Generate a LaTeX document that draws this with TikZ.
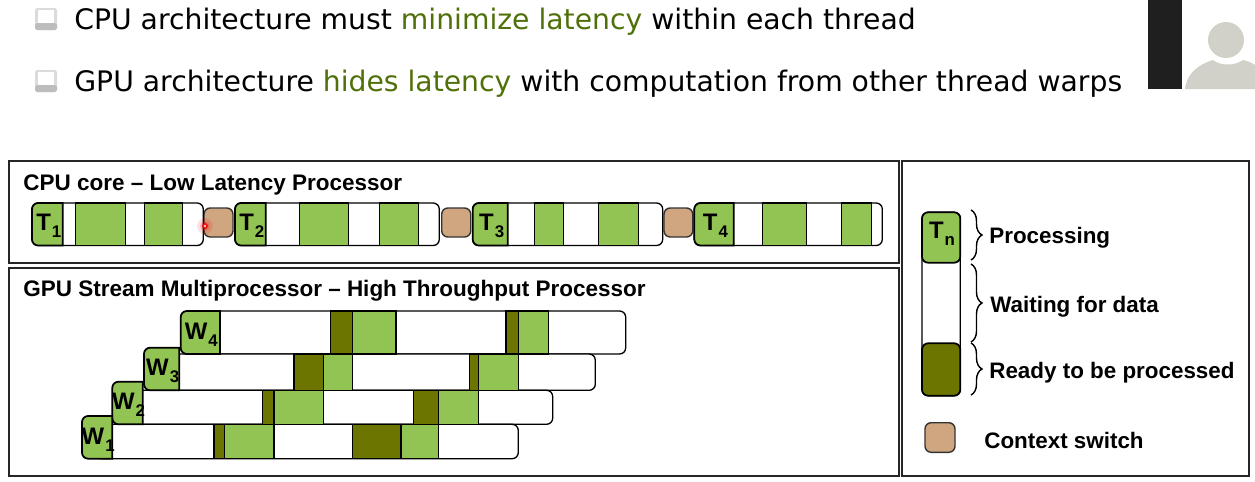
\documentclass[tikz,border=0pt]{standalone}
\usepackage{xcolor}
\usepackage{fontspec}
\setmainfont{Liberation Sans}
\newfontfamily\slidefont{DejaVu Sans}
\usepackage{tikz}
\usetikzlibrary{calc,decorations.pathreplacing}
\definecolor{procgreen}{RGB}{146,196,84}
\definecolor{readyolive}{RGB}{107,117,0}
\definecolor{switchtan}{RGB}{207,166,127}
\definecolor{accentgreen}{RGB}{80,112,10}
\definecolor{avatargrey}{RGB}{209,209,201}
\newcommand{\headlabel}[2]{#1\kern0.6pt\raisebox{-4pt}{\fontsize{9.6}{10}\selectfont #2}}
\tikzset{
  panel/.style={draw=black!85, line width=0.9pt, fill=white},
  bar/.style={draw=black, line width=0.75pt, fill=white, rounded corners=3.5pt},
  seg/.style={draw=black, line width=0.7pt},
  head/.style={draw=black, line width=1pt, fill=procgreen},
  headround/.style={head, rounded corners=3.5pt},
  switchbox/.style={draw=black!80, line width=0.8pt, fill=switchtan, rounded corners=3.5pt},
  headtext/.style={font=\fontsize{13.6}{15}\selectfont\bfseries, inner sep=0pt},
  paneltitle/.style={anchor=west, inner sep=0pt, font=\fontsize{12.8}{14}\selectfont\bfseries},
  legendtext/.style={anchor=west, inner sep=0pt, font=\fontsize{12.75}{15}\selectfont\bfseries},
  slideline/.style={anchor=west, inner sep=0pt, font=\slidefont\fontsize{16.08}{18}\selectfont},
  legbrace/.style={draw=black, line width=0.8pt, decorate, decoration={brace, amplitude=0.22cm}},
}
\begin{document}
\begin{tikzpicture}[x=0.02cm, y=-0.02cm]
  \useasboundingbox (0,0) rectangle (1255,481);
  \fill[white] (0,0) rectangle (1255,481);

  \foreach \y in {8,70} {
    \fill[black!14, rounded corners=1pt] (35,\y) rectangle (57,\y+22);
    \fill[black!26, rounded corners=1pt] (35,\y+15) rectangle (57,\y+22);
    \fill[white] (38,\y+2) rectangle (54,\y+15);
  }
  \node[slideline] (line1) at (74,22) {CPU architecture must \textcolor{accentgreen}{minimize latency} within each thread};
  \node[slideline] (line2) at (74,84) {GPU architecture \textcolor{accentgreen}{hides latency} with computation from other thread warps};

  \fill[black!88] (1148,0) rectangle (1182,89);
  \fill[avatargrey] (1226,40) circle (18);
  \fill[avatargrey] (1185,89) .. controls (1187,72) and (1200,64) .. (1213,60)
    .. controls (1220,66) and (1235,66) .. (1243,60)
    .. controls (1248,61) and (1252,63) .. (1255,65) -- (1255,89) -- cycle;

  \draw[panel] (9,161) rectangle (899,263);
  \draw[panel] (9,268) rectangle (899,476);
  \draw[panel] (902,161) rectangle (1249,476);
  \node[paneltitle] (cputitle) at (23,185) {CPU core -- Low Latency Processor};
  \node[paneltitle] (gputitle) at (23,291) {GPU Stream Multiprocessor -- High Throughput Processor};

  \foreach \xa/\xb in {204/233,441.7/470.7,664/692.7} {
    \draw[switchbox] (\xa,208) rectangle (\xb,237);
  }
  \foreach \xa/\xb in {32/203.3,235/439.3,472.7/662.7,694.3/882.3} {
    \draw[bar] (\xa,203) rectangle (\xb,245.5);
  }
  \foreach \xa/\xb in {75.7/125.7,144.3/182.3,299.7/348.3,379.3/418.7,534.3/563.3,598.3/638.7,762.3/806.7,841.7/871.3} {
    \draw[seg, fill=procgreen] (\xa,203) rectangle (\xb,245.5);
  }
  \foreach \n/\xa/\xb in {1/32/62.7,2/235/265.7,3/472.7/507.7,4/694.3/733.7} {
    \draw[head] (\xb,203) [rounded corners=3.5pt] -- (\xa,203) -- (\xa,245.5) [sharp corners] -- (\xb,245.5) -- cycle;
    \node[headtext] (t\n) at ($(\xa,203)!0.5!(\xb,245.5)+(1.5,2)$) {\headlabel{T}{\n}};
  }

  \foreach \xa/\xb/\ya/\yb in {200/625.7/311/354,160/595.3/354/390.3,125/552.7/390.3/424.3,95/518.3/424.3/458.7} {
    \draw[bar] (\xa,\ya) rectangle (\xb,\yb);
  }
  \foreach \xa/\xb/\ya/\yb/\col in {
    330.7/352.7/311/354/readyolive,352.7/396/311/354/procgreen,506/518.3/311/354/readyolive,518.3/548.3/311/354/procgreen,
    294/323.3/354/390.3/readyolive,323.3/352.7/354/390.3/procgreen,469.3/478.3/354/390.3/readyolive,478.3/518.3/354/390.3/procgreen,
    262.7/274/390.3/424.3/readyolive,274/323.3/390.3/424.3/procgreen,413.3/438.7/390.3/424.3/readyolive,438.7/478.3/390.3/424.3/procgreen,
    214/224.3/424.3/458.7/readyolive,224.3/274/424.3/458.7/procgreen,352.7/401/424.3/458.7/readyolive,401/438.7/424.3/458.7/procgreen} {
    \draw[seg, fill=\col] (\xa,\ya) rectangle (\xb,\yb);
  }
  \foreach \n/\xa/\xb/\ya/\yb in {4/180.7/220/311/354,3/144/179.3/347.7/390.3,2/112.3/142.7/381.7/424.3,1/82/112.3/416/458.7} {
    \draw[head] (\xb,\ya) [rounded corners=3.5pt] -- (\xa,\ya) -- (\xa,\yb) [sharp corners] -- (\xb,\yb) -- cycle;
    \node[headtext] (w\n) at ($(\xa,\ya)!0.5!(\xb,\yb)+(1,2)$) {\headlabel{W}{\n}};
  }

  \draw[bar] (922,212.3) rectangle (960.3,395.7);
  \draw[headround] (922,212.3) rectangle (960.3,262.7);
  \node[headtext] (tn) at (942,234) {\headlabel{T}{n}};
  \draw[headround, fill=readyolive] (922,343.3) rectangle (960.3,395.7);
  \draw[switchbox] (925,422.7) rectangle (955,452.3);

  \draw[legbrace] (971,210) -- (971,260);
  \draw[legbrace] (971,264) -- (971,342);
  \draw[legbrace] (971,343) -- (971,395);
  \node[legendtext] (procl) at (989,237.5) {Processing};
  \node[legendtext] (waitl) at (990,306.5) {Waiting for data};
  \node[legendtext] (readyl) at (989,372.5) {Ready to be processed};
  \node[legendtext] (switchl) at (984,440) {Context switch};

  \fill[red, opacity=0.12] (205,226) circle (8);
  \fill[red, opacity=0.2] (205,226) circle (5);
  \draw[red!90!black, line width=0.7pt, fill=white!70!red] (205,226) circle (2.2);
\end{tikzpicture}
\end{document}
